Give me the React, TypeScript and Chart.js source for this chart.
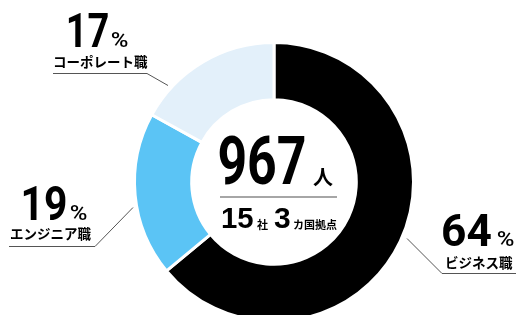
import React, { useEffect, useRef } from "react";
import { Chart, registerables } from "chart.js";

Chart.register(...registerables);

const categories = ["ビジネス職", "エンジニア職", "コーポレート職"];
const shares = [64, 19, 17];
const colors = ["#000000", "#5BC4F5", "#E3F0FA"];
const totalPeople = "967";
const peopleUnit = "人";
const companies = "15";
const companyUnit = "社";
const countries = "3";
const countryUnit = "カ国拠点";

const NUM_FONT = 'Roboto, "Liberation Sans", sans-serif';
const SUB_NUM_FONT = '"Liberation Sans", Arial, sans-serif';
const JP_FONT = '"Noto Sans CJK JP", "Noto Sans", sans-serif';

// draw text so that its ink spans [x, x+w] horizontally
function drawFit(ctx: CanvasRenderingContext2D, text: string, x: number, y: number, w: number) {
  const m = ctx.measureText(text);
  const inkW = m.actualBoundingBoxLeft + m.actualBoundingBoxRight;
  const s = w / inkW;
  ctx.save();
  ctx.translate(x, y);
  ctx.scale(s, 1);
  ctx.fillText(text, m.actualBoundingBoxLeft, 0);
  ctx.restore();
}

const overlay = {
  id: "overlay",
  afterDraw(chart: any) {
    const ctx = chart.ctx as CanvasRenderingContext2D;
    ctx.save();
    ctx.fillStyle = "#000";
    ctx.textBaseline = "alphabetic";
    ctx.textAlign = "left";

    // center block
    ctx.font = `bold 66px ${NUM_FONT}`;
    drawFit(ctx, totalPeople, 219, 184, 86);
    ctx.font = `bold 20px ${JP_FONT}`;
    ctx.fillText(peopleUnit, 313, 185);

    ctx.strokeStyle = "#888";
    ctx.lineWidth = 1.5;
    ctx.beginPath();
    ctx.moveTo(220, 197);
    ctx.lineTo(337, 197);
    ctx.stroke();

    ctx.font = `bold 30px ${SUB_NUM_FONT}`;
    drawFit(ctx, companies, 222, 228, 31);
    drawFit(ctx, countries, 274, 228, 16);
    ctx.font = `bold 11px ${JP_FONT}`;
    ctx.fillText(companyUnit, 257, 229);
    ctx.fillText(countryUnit, 293, 229);

    // labels
    const labels = [
      { i: 0, nx: 443, ny: 246, nw: 48, nf: 45, px: 498, tx: 445, ty: 268, line: [[407, 238], [442, 273], [516, 273]] },
      { i: 1, nx: 23, ny: 220, nw: 43, nf: 48, px: 71, tx: 10, ty: 239, line: [[9, 246], [95, 246], [133, 207]] },
      { i: 2, nx: 68, ny: 47, nw: 40, nf: 48, px: 112, tx: 53, ty: 67, line: [[53, 73], [147, 73], [168, 85]] },
    ];
    for (const l of labels) {
      ctx.font = `bold ${l.nf}px ${NUM_FONT}`;
      drawFit(ctx, String(shares[l.i]), l.nx, l.ny, l.nw);
      ctx.font = `500 21px ${NUM_FONT}`;
      drawFit(ctx, "%", l.px, l.ny, 16);
      ctx.font = `bold 13.5px ${JP_FONT}`;
      ctx.fillText(categories[l.i], l.tx, l.ty);
      ctx.strokeStyle = "#555";
      ctx.lineWidth = 1;
      ctx.beginPath();
      ctx.moveTo(l.line[0][0], l.line[0][1] + 0.5);
      for (let k = 1; k < l.line.length; k++) ctx.lineTo(l.line[k][0], l.line[k][1] + 0.5);
      ctx.stroke();
    }
    ctx.restore();
  },
};

export default function App() {
  const ref = useRef<HTMLCanvasElement>(null);
  useEffect(() => {
    document.body.style.margin = "0";
    const chart = new Chart(ref.current!, {
      type: "doughnut",
      data: {
        labels: categories,
        datasets: [
          {
            data: shares,
            backgroundColor: colors,
            borderColor: "#ffffff",
            borderWidth: 3,
          },
        ],
      },
      options: {
        responsive: false,
        animation: false,
        cutout: "59%",
        layout: { padding: { left: 133, top: 41, right: 101, bottom: 0 } },
        plugins: { legend: { display: false }, tooltip: { enabled: false } },
      },
      plugins: [overlay],
    });
    return () => chart.destroy();
  }, []);
  return (
    <div style={{ width: 516, height: 315, overflow: "hidden", background: "#fff" }}>
      <canvas ref={ref} width={516} height={323} style={{ display: "block" }} />
    </div>
  );
}
